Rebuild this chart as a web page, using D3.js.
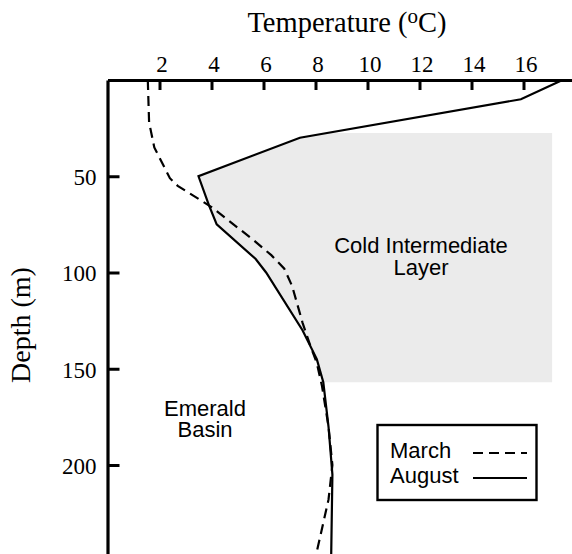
<!DOCTYPE html>
<html>
<head>
  <meta charset="utf-8">
  <script src="https://d3js.org/d3.v7.min.js"></script>
  <style>
    body { margin: 0; background: #fff; }
    .serif { font-family: 'Liberation Serif', 'Times New Roman', serif; }
    .sans { font-family: 'Liberation Sans', Arial, sans-serif; }
  </style>
</head>
<body>
<div id="chart"></div>
<script>
  var width = 572, height = 554;

  // temperature profiles (deg C) against depth (m)
  var marchDepth = [0, 22, 35, 51, 55, 66, 83, 91, 98, 107, 126, 138, 147, 159, 180, 200, 218, 245];
  var marchTemp  = [1.55, 1.6, 1.8, 2.4, 2.7, 4.0, 5.6, 6.3, 6.8, 7.1, 7.5, 7.8, 8.05, 8.25, 8.5, 8.65, 8.5, 8.05];
  var augustDepth = [0, 10, 30, 50, 65, 75, 93, 100, 130, 145, 157, 180, 205, 250];
  var augustTemp  = [17.5, 15.9, 7.4, 3.5, 3.9, 4.2, 5.7, 6.1, 7.5, 8.05, 8.3, 8.5, 8.65, 8.6];

  var tempTicks = [2, 4, 6, 8, 10, 12, 14, 16];
  var depthTicks = [50, 100, 150, 200];

  // cold intermediate layer: depth band, right edge temperature
  var cilDepth = [27.5, 157];
  var cilRight = 17.1;

  var x = d3.scaleLinear().domain([0, 18]).range([107.5, 575.5]);
  var y = d3.scaleLinear().domain([0, 250]).range([80, 561.25]);

  var svg = d3.select("#chart").append("svg")
    .attr("width", width)
    .attr("height", height);

  function tempAt(depths, temps, d) {
    var i = d3.bisectRight(depths, d);
    if (i <= 0) return temps[0];
    if (i >= depths.length) return temps[temps.length - 1];
    var t = (d - depths[i - 1]) / (depths[i] - depths[i - 1]);
    return temps[i - 1] + t * (temps[i] - temps[i - 1]);
  }

  // gray band bounded on the left by the August profile
  var band = [];
  band.push([tempAt(augustDepth, augustTemp, cilDepth[0]), cilDepth[0]]);
  augustDepth.forEach(function (d, i) {
    if (d > cilDepth[0] && d < cilDepth[1]) band.push([augustTemp[i], d]);
  });
  band.push([tempAt(augustDepth, augustTemp, cilDepth[1]), cilDepth[1]]);
  band.push([cilRight, cilDepth[1]]);
  band.push([cilRight, cilDepth[0]]);

  var line = d3.line()
    .x(function (d) { return x(d[0]); })
    .y(function (d) { return y(d[1]); });

  svg.append("path")
    .datum(band)
    .attr("fill", "#ebebeb")
    .attr("d", line);

  svg.append("path")
    .datum(marchTemp.map(function (t, i) { return [t, marchDepth[i]]; }))
    .attr("fill", "none")
    .attr("stroke", "#000")
    .attr("stroke-width", 2.2)
    .attr("stroke-dasharray", "10,6")
    .attr("d", line);

  svg.append("path")
    .datum(augustTemp.map(function (t, i) { return [t, augustDepth[i]]; }))
    .attr("fill", "none")
    .attr("stroke", "#000")
    .attr("stroke-width", 2.2)
    .attr("d", line);

  // axes
  var xAxis = svg.append("g")
    .attr("transform", "translate(0," + y(0) + ")")
    .call(d3.axisTop(x).tickValues(tempTicks).tickSize(-10).tickSizeOuter(0).tickPadding(8));

  var yAxis = svg.append("g")
    .attr("transform", "translate(" + x(0) + ",0)")
    .call(d3.axisLeft(y).tickValues(depthTicks).tickSize(-12).tickSizeOuter(0).tickPadding(11));

  [xAxis, yAxis].forEach(function (ax) {
    ax.select(".domain").attr("stroke-width", 3.2);
    ax.selectAll(".tick line").attr("stroke-width", 3);
    ax.selectAll(".tick text")
      .attr("class", "serif")
      .style("font-size", "23px")
      .attr("fill", "#000");
  });
  xAxis.selectAll(".tick text").attr("dx", 2);
  yAxis.selectAll(".tick text").attr("dy", "0.36em");

  // titles
  var title = svg.append("text")
    .attr("class", "serif")
    .attr("x", 347)
    .attr("y", 31.5)
    .attr("text-anchor", "middle")
    .style("font-size", "28.5px");
  title.append("tspan").text("Temperature (");
  title.append("tspan").attr("dy", -9).style("font-size", "21px").text("o");
  title.append("tspan").attr("dy", 9).text("C)");

  svg.append("text")
    .attr("class", "serif")
    .attr("transform", "translate(30,325) rotate(-90)")
    .attr("text-anchor", "middle")
    .style("font-size", "28px")
    .text("Depth (m)");

  // annotations
  function label(lines, cx, y0, gap) {
    var t = svg.append("text")
      .attr("class", "sans")
      .attr("text-anchor", "middle")
      .style("font-size", "22px");
    lines.forEach(function (s, i) {
      t.append("tspan").attr("x", cx).attr("y", y0 + i * gap).text(s);
    });
  }
  label(["Cold Intermediate", "Layer"], 421, 253, 22);
  label(["Emerald", "Basin"], 205, 415.5, 21);

  // legend
  var legend = svg.append("g");
  legend.append("rect")
    .attr("x", 377.5).attr("y", 425)
    .attr("width", 159).attr("height", 75)
    .attr("fill", "none")
    .attr("stroke", "#000")
    .attr("stroke-width", 2.4);

  var legendNames = ["March", "August"];
  var legendDash = ["10,6", null];
  legendNames.forEach(function (name, i) {
    var yy = 457.5 + i * 25;
    legend.append("text")
      .attr("class", "sans")
      .attr("x", 390)
      .attr("y", yy)
      .style("font-size", "22px")
      .text(name);
    legend.append("line")
      .attr("x1", 473).attr("x2", 527)
      .attr("y1", yy - 4.5).attr("y2", yy - 4.5)
      .attr("stroke", "#000")
      .attr("stroke-width", 2.2)
      .attr("stroke-dasharray", legendDash[i]);
  });
</script>
</body>
</html>
